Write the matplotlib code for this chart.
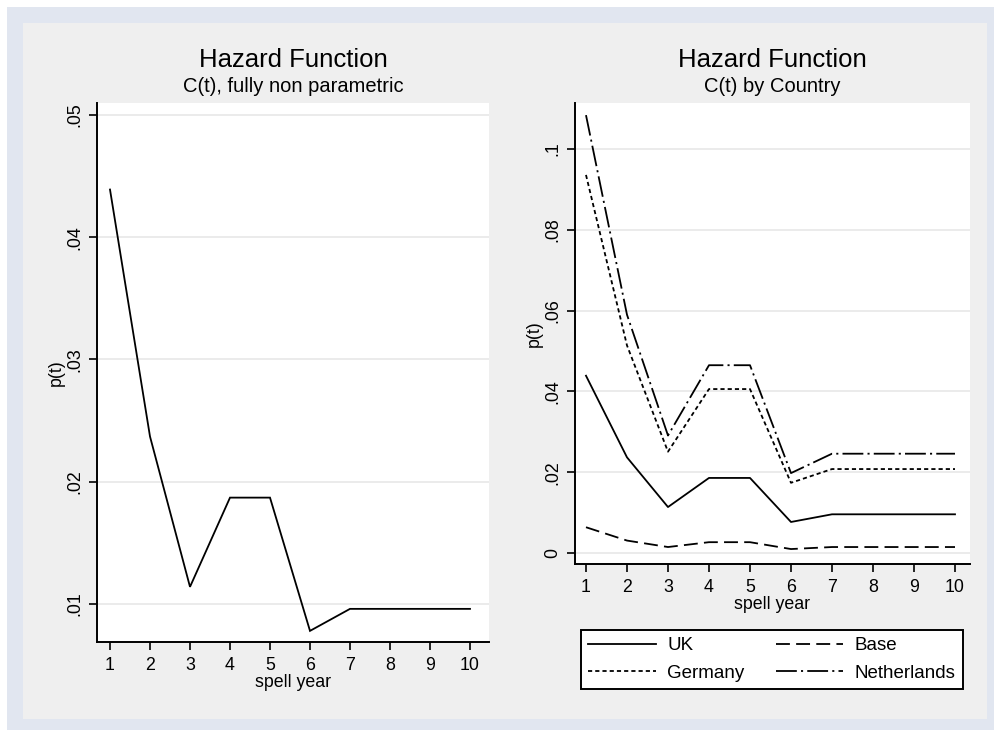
import matplotlib
matplotlib.use("Agg")
import matplotlib.pyplot as plt
from matplotlib.patches import Rectangle
from matplotlib.lines import Line2D

plt.rcParams['font.family'] = ['Liberation Sans', 'DejaVu Sans']
plt.rcParams['lines.scale_dashes'] = False

# ---- data ----
spell_year = [1, 2, 3, 4, 5, 6, 7, 8, 9, 10]
p_overall = [0.0439, 0.0237, 0.0114, 0.0187, 0.0187, 0.0078, 0.0096, 0.0096, 0.0096, 0.0096]
p_uk = [0.0439, 0.0237, 0.0114, 0.0186, 0.0186, 0.0077, 0.0096, 0.0096, 0.0096, 0.0096]
p_base = [0.0064, 0.0031, 0.0015, 0.0027, 0.0027, 0.0010, 0.0015, 0.0015, 0.0015, 0.0015]
p_germany = [0.0936, 0.0514, 0.0251, 0.0406, 0.0406, 0.0174, 0.0208, 0.0208, 0.0208, 0.0208]
p_netherlands = [0.1084, 0.0590, 0.0291, 0.0465, 0.0465, 0.0198, 0.0246, 0.0246, 0.0246, 0.0246]

left_yticks = [0.01, 0.02, 0.03, 0.04, 0.05]
left_yticklabels = ['.01', '.02', '.03', '.04', '.05']
right_yticks = [0, 0.02, 0.04, 0.06, 0.08, 0.1]
right_yticklabels = ['0', '.02', '.04', '.06', '.08', '.1']
xticks = spell_year
xticklabels = [str(v) for v in spell_year]

W, H = 995, 730
fig = plt.figure(figsize=(W / 100, H / 100), dpi=100)
fig.patch.set_facecolor('white')

def fx(px):
    return px / W

def fy(py):
    return 1 - py / H

# background regions
fig.patches.append(Rectangle((fx(7), fy(730)), fx(995 - 7), 723 / H, transform=fig.transFigure,
                             facecolor='#e1e6f0', edgecolor='none', zorder=-10))
fig.patches.append(Rectangle((fx(23), fy(719)), fx(987 - 23), (719 - 23) / H, transform=fig.transFigure,
                             facecolor='#efefef', edgecolor='none', zorder=-9))

LW = 1.3
GRID = '#e6e6e6'
TICK_FS = 12.8

def style_axes(ax, yticks, yticklabels, ylim, xlim):
    ax.set_facecolor('white')
    ax.set_xlim(*xlim)
    ax.set_ylim(*ylim)
    ax.set_xticks(xticks)
    ax.set_xticklabels(xticklabels)
    ax.set_yticks(yticks)
    ax.set_yticklabels(yticklabels)
    for s in ['top', 'right']:
        ax.spines[s].set_visible(False)
    for s in ['left', 'bottom']:
        ax.spines[s].set_linewidth(1.4)
        ax.spines[s].set_color('black')
    ax.tick_params(axis='both', direction='out', length=6, width=1.2, labelsize=TICK_FS, colors='black')
    ax.tick_params(axis='y', pad=4, labelrotation=90)
    ax.tick_params(axis='x', pad=4.5)
    for lab in ax.get_yticklabels():
        lab.set_va('center')
    ax.yaxis.grid(True, color=GRID, linewidth=1.1)
    ax.set_axisbelow(True)
    ax.set_xlabel('spell year', fontsize=TICK_FS, labelpad=0)
    ax.set_ylabel('p(t)', fontsize=TICK_FS, labelpad=1)

# ---- left panel ----
axL = fig.add_axes([fx(97), fy(642), fx(489 - 97), (642 - 103) / H])
style_axes(axL, left_yticks, left_yticklabels, (0.00689, 0.05098), (0.675, 10.475))
axL.plot(spell_year, p_overall, color='black', linewidth=LW, solid_joinstyle='miter')

# ---- right panel ----
axR = fig.add_axes([fx(575), fy(564), fx(970 - 575), (564 - 103) / H])
style_axes(axR, right_yticks, right_yticklabels, (-0.0027, 0.1114), (0.732, 10.366))
l_uk, = axR.plot(spell_year, p_uk, color='black', linewidth=LW, linestyle='-', label='UK')
l_base, = axR.plot(spell_year, p_base, color='black', linewidth=LW,
                   linestyle=(0, (10, 4.5)), label='Base')
l_de, = axR.plot(spell_year, p_germany, color='black', linewidth=LW,
                 linestyle=(0, (3, 2.2)), label='Germany')
l_nl, = axR.plot(spell_year, p_netherlands, color='black', linewidth=LW,
                 linestyle=(0, (15, 3, 1.5, 3)), label='Netherlands')

# titles
fig.text(fx(293), fy(60), 'Hazard Function', ha='center', va='center', fontsize=18.5)
fig.text(fx(293), fy(87), 'C(t), fully non parametric', ha='center', va='center', fontsize=14.5)
fig.text(fx(772), fy(60), 'Hazard Function', ha='center', va='center', fontsize=18.5)
fig.text(fx(772), fy(87), 'C(t) by Country', ha='center', va='center', fontsize=14.5)

# legend
leg = fig.legend([l_uk, l_de, l_base, l_nl], ['UK', 'Germany', 'Base', 'Netherlands'],
                 ncol=2, loc='center',
                 bbox_to_anchor=(fx(581), fy(692), fx(963 - 581), (692 - 627) / H),
                 mode='expand', fontsize=13.5, frameon=True, fancybox=False,
                 handlelength=3.6, handletextpad=0.6, borderpad=0.4, labelspacing=0.55,
                 borderaxespad=0)
leg.get_frame().set_edgecolor('black')
leg.get_frame().set_linewidth(1.4)
leg.get_frame().set_facecolor('white')
leg.get_frame().set_alpha(1)

fig.savefig('out.png', dpi=100)
